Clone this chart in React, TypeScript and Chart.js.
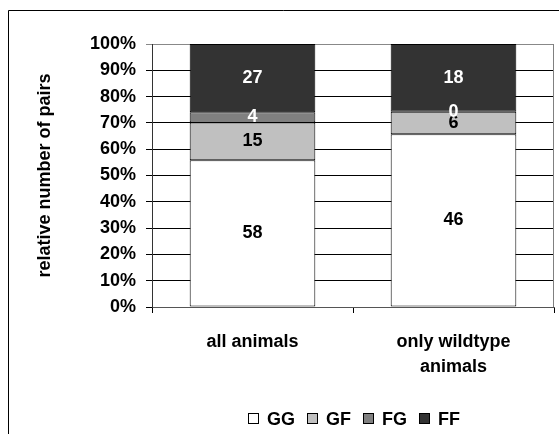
import React, { useEffect, useRef } from "react";
import { Chart, registerables } from "chart.js";

Chart.register(...registerables);

const categories: (string | string[])[] = ["all animals", ["only wildtype", "animals"]];
const seriesNames = ["GG", "GF", "FG", "FF"];
const ggCounts = [58, 46];
const gfCounts = [15, 6];
const fgCounts = [4, 0];
const ffCounts = [27, 18];
const seriesColors = ["#ffffff", "#c0c0c0", "#808080", "#333333"];
const labelColors = ["#000000", "#000000", "#ffffff", "#ffffff"];
const yTickValues = [0, 10, 20, 30, 40, 50, 60, 70, 80, 90, 100];
const yTitle = "relative number of pairs";

const FONT = "'Liberation Sans', Arial, Helvetica, sans-serif";

export default function App() {
  const ref = useRef<HTMLCanvasElement | null>(null);

  useEffect(() => {
    const canvas = ref.current;
    if (!canvas) return;
    const counts = [ggCounts, gfCounts, fgCounts, ffCounts];
    const totals = categories.map((_, j) => counts.reduce((s, arr) => s + arr[j], 0));
    const percents = counts.map((arr) => arr.map((v, j) => (v / totals[j]) * 100));

    const framePlugin = {
      id: "frame",
      beforeDraw(chart: any) {
        const ctx = chart.ctx;
        ctx.save();
        ctx.fillStyle = "#ffffff";
        ctx.fillRect(0, 0, chart.width, chart.height);
        ctx.strokeStyle = "#000000";
        ctx.lineWidth = 1;
        ctx.beginPath();
        ctx.moveTo(8.5, chart.height);
        ctx.lineTo(8.5, 10.5);
        ctx.lineTo(chart.width, 10.5);
        ctx.stroke();
        ctx.restore();
      },
      beforeDatasetsDraw(chart: any) {
        const ctx = chart.ctx;
        const a = chart.chartArea;
        ctx.save();
        ctx.strokeStyle = "#808080";
        ctx.lineWidth = 1;
        ctx.beginPath();
        ctx.moveTo(Math.round(a.right) - 0.5, a.top);
        ctx.lineTo(Math.round(a.right) - 0.5, a.bottom);
        ctx.stroke();
        ctx.restore();
      },
    };

    const labelPlugin = {
      id: "segLabels",
      afterDatasetsDraw(chart: any) {
        const ctx = chart.ctx;
        ctx.save();
        ctx.font = `bold 18px ${FONT}`;
        ctx.textAlign = "center";
        ctx.textBaseline = "middle";
        chart.data.datasets.forEach((ds: any, i: number) => {
          const meta = chart.getDatasetMeta(i);
          meta.data.forEach((el: any, j: number) => {
            const cy = (el.y + el.base) / 2;
            ctx.fillStyle = labelColors[i];
            ctx.fillText(String(counts[i][j]), el.x, cy);
          });
        });
        ctx.restore();
      },
    };

    const legendPlugin = {
      id: "customLegend",
      afterDraw(chart: any) {
        const ctx = chart.ctx;
        ctx.save();
        ctx.font = `bold 18px ${FONT}`;
        ctx.textBaseline = "middle";
        ctx.textAlign = "left";
        let x = 248;
        const boxTop = 413;
        const textY = 420;
        seriesNames.forEach((name, i) => {
          ctx.fillStyle = seriesColors[i];
          ctx.fillRect(x + 0.5, boxTop + 0.5, 10, 10);
          ctx.strokeStyle = "#000000";
          ctx.lineWidth = 1;
          ctx.strokeRect(x + 0.5, boxTop + 0.5, 10, 10);
          ctx.fillStyle = "#000000";
          ctx.fillText(name, x + 19, textY);
          x += 19 + ctx.measureText(name).width + 12;
        });
        ctx.restore();
      },
    };

    const chart = new Chart(canvas, {
      type: "bar",
      data: {
        labels: categories as any,
        datasets: seriesNames.map((name, i) => ({
          label: name,
          data: percents[i],
          backgroundColor: seriesColors[i],
          borderColor: "#000000",
          borderWidth: 1,
          borderSkipped: false,
          categoryPercentage: 1,
          barPercentage: 0.625,
        })),
      },
      options: {
        responsive: false,
        animation: false,
        devicePixelRatio: 1,
        layout: { padding: { top: 44, right: 5, bottom: 0, left: 0 } },
        plugins: {
          legend: { display: false },
          tooltip: { enabled: false },
        },
        scales: {
          x: {
            stacked: true,
            offset: true,
            grid: {
              offset: true,
              drawOnChartArea: false,
              drawTicks: true,
              tickLength: 6,
              color: "#000000",
            },
            border: { display: true, color: "#555555", width: 1 },
            ticks: {
              color: "#000000",
              padding: 17,
              maxRotation: 0,
              autoSkip: false,
              font: { family: FONT, size: 18, weight: "bold", lineHeight: 1.39 },
            },
            afterFit(scale: any) {
              scale.height = 127;
            },
          },
          y: {
            stacked: true,
            min: 0,
            max: 100,
            afterBuildTicks(scale: any) {
              scale.ticks = yTickValues.map((v) => ({ value: v }));
            },
            grid: {
              color: (c: any) => (c.tick && c.tick.value === 100 ? "#888888" : "#000000"),
              tickLength: 6,
              drawTicks: true,
            },
            border: { display: true, color: "#333333", width: 1 },
            ticks: {
              color: "#000000",
              padding: 10,
              callback: (v: any) => `${v}%`,
              font: { family: FONT, size: 18, weight: "bold" },
            },
            title: {
              display: true,
              text: yTitle,
              color: "#000000",
              padding: { top: 34, bottom: 0 },
              font: { family: FONT, size: 18, weight: "bold" },
            },
            afterFit(scale: any) {
              scale.width = 152;
            },
          },
        },
      },
      plugins: [framePlugin, labelPlugin, legendPlugin],
    } as any);

    return () => chart.destroy();
  }, []);

  return (
    <div style={{ position: "fixed", left: 0, top: 0, width: 559, height: 434 }}>
      <canvas ref={ref} width={559} height={434} style={{ display: "block", width: 559, height: 434 }} />
    </div>
  );
}
